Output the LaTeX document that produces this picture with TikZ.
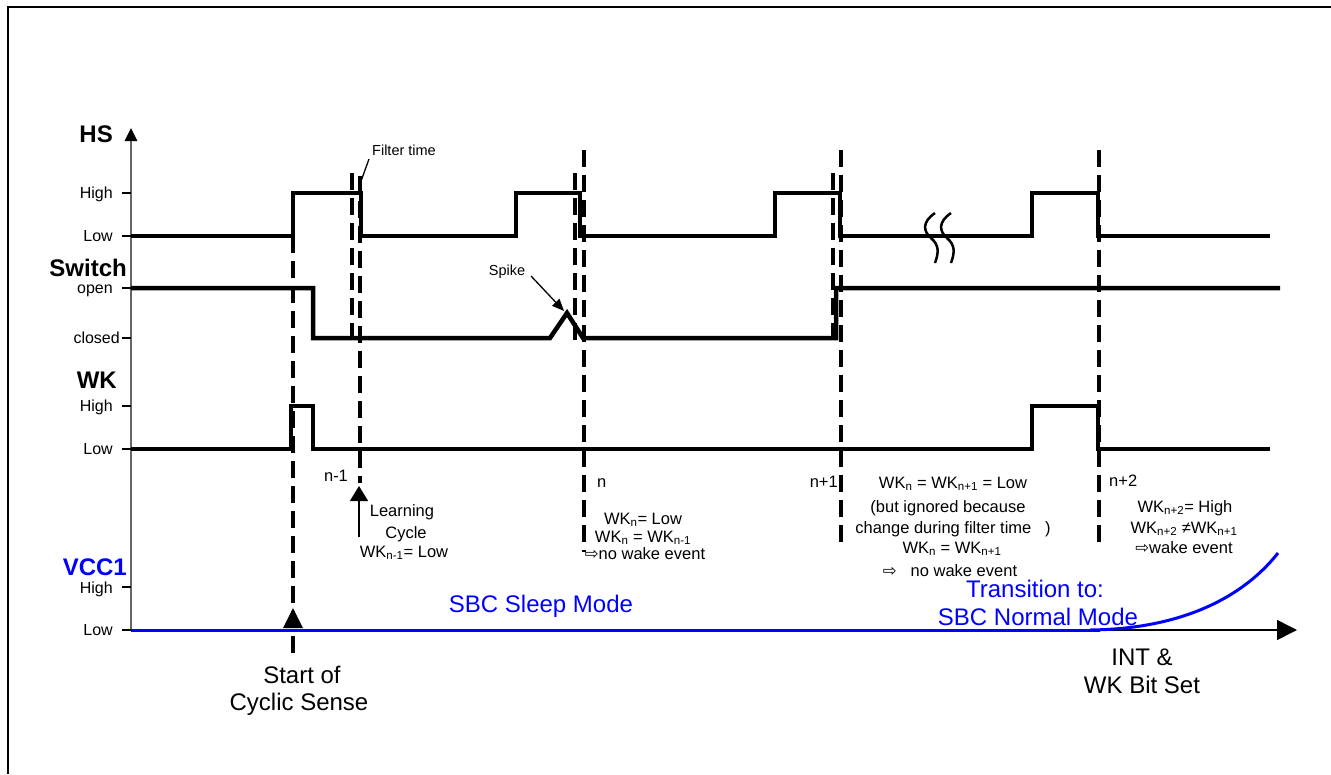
\documentclass[tikz,border=0pt]{standalone}
\usepackage{fontspec}
\setmainfont{Liberation Sans}
\newfontfamily\dejavu{DejaVu Sans}
\usetikzlibrary{arrows.meta}
\definecolor{vblue}{RGB}{0,0,255}
\begin{document}
\begin{tikzpicture}[x=1pt,y=-1pt,
  sig/.style={line width=4.5pt, line join=miter},
  vdash/.style={line width=3.5pt, dash pattern=on 17pt off 8pt},
  tk/.style={line width=2.5pt},
  lbl/.style={font=\fontsize{16}{18}\selectfont, inner sep=0pt},
  ttl/.style={font=\bfseries\fontsize{24}{26}\selectfont, inner sep=0pt},
  big/.style={font=\fontsize{24}{28}\selectfont, inner sep=0pt},
  note/.style={font=\fontsize{16.5}{19}\selectfont, inner sep=0pt},
  small/.style={font=\fontsize{14.5}{17}\selectfont, inner sep=0pt},
  thin/.style={line width=1.3pt},
]
\useasboundingbox (0,0) rectangle (1331,774);
% frame
\draw[line width=1.2pt] (8,774) -- (8,7) -- (1331,7);

% vertical axis
\coordinate (axbot) at (131,630);
\coordinate (axtop) at (131,141);
\draw[gray!80!black, line width=1.2pt] (axbot) -- (axtop);
\fill (131,128) -- (124.5,141) -- (137.5,141) -- cycle;

% ticks
\foreach \yy in {193,236,288,338,406,449,587,630}
  \draw[tk] (122,\yy) -- (131,\yy);

% axis titles
\node[ttl, anchor=base east] (hs) at (113,142) {HS};
\node[ttl, anchor=base east] (sw) at (127,276) {Switch};
\node[ttl, anchor=base east] (wk) at (117,388) {WK};
\node[ttl, anchor=base east, text=vblue] (vcc) at (127,575) {VCC1};

% tick labels
\node[lbl, anchor=base east] (hshi) at (113,198.5) {High};
\node[lbl, anchor=base east] (hslo) at (113,241) {Low};
\node[lbl, anchor=base east] (swop) at (113,293) {open};
\node[lbl, anchor=base east] (swcl) at (120,343) {closed};
\node[lbl, anchor=base east] (wkhi) at (113,411) {High};
\node[lbl, anchor=base east] (wklo) at (113,454) {Low};
\node[lbl, anchor=base east] (vhi) at (113,593) {High};
\node[lbl, anchor=base east] (vlo) at (113,635) {Low};

% horizontal time axis
\coordinate (tax0) at (131,630);
\coordinate (tax1) at (1297,630);
\draw[line width=1.5pt, -{Triangle[length=20pt,width=20pt]}] (tax0) -- (tax1);
\draw[vblue, line width=3pt] (131,630) -- (1100,630);
\draw[vblue, line width=3pt] (1090,630) .. controls (1185,629) and (1245,595) .. (1278,553);

% HS signal
\draw[sig] (131,236) -- (293,236) -- (293,193) -- (361,193) -- (361,236) -- (516,236) -- (516,193) -- (580,193) -- (580,236)
  -- (775,236) -- (775,193) -- (840,193) -- (840,236) -- (1032,236) -- (1032,193) -- (1098,193) -- (1098,236) -- (1270,236);
% Switch signal
\draw[sig] (131,288) -- (313,288) -- (313,338) -- (550,338) -- (567,313) -- (583,338) -- (836,338) -- (836,288) -- (1280,288);
% WK signal
\draw[sig] (131,449) -- (291,449) -- (291,406) -- (313,406) -- (313,449) -- (1032,449) -- (1032,406) -- (1098,406) -- (1098,449) -- (1270,449);

% break marks
\foreach \dx in {0,16}{
  \draw[line width=2.5pt] (935+\dx,213) .. controls (922+\dx,222) and (923+\dx,231) .. (931+\dx,238)
     .. controls (939+\dx,245) and (939+\dx,252) .. (935+\dx,263);
}

% dashed lines
\draw[vdash] (293,236) -- (293,660);
\fill (293,608) -- (283,628) -- (303,628) -- cycle;
\draw[vdash] (352,173) -- (352,340);
\draw[vdash] (360,176) -- (360,483);
\draw[vdash] (575,173) -- (575,340);
\draw[vdash] (584,150) -- (584,552);
\draw[vdash] (833,173) -- (833,340);
\draw[vdash] (841,150) -- (841,548);
\draw[vdash] (1099,150) -- (1099,548);

% filter time
\node[small, anchor=base] (filt) at (404,155) {Filter time};
\coordinate (filtp) at (360,184);
\draw[thin] (369,159) -- (filtp);

% spike
\node[small, anchor=base] (spk) at (507,275) {Spike};
\coordinate (spkp) at (564,311);
\draw[thin, -{Triangle[length=12pt,width=10pt]}] (531,276) -- (spkp);

% learning cycle arrow
\coordinate (lc0) at (359,537);
\coordinate (lc1) at (359,486);
\draw[line width=1.5pt, -{Triangle[length=15pt,width=18pt]}] (lc0) -- (lc1);

% n-1
\node[note, anchor=base] (nm1) at (336,481) {n-1};
\node[note, anchor=base] (lc1t) at (402,516) {Learning};
\node[note, anchor=base] (lc2t) at (406,538) {Cycle};
\node[note, anchor=base] (lc3t) at (404,557) {WK\textsubscript{n-1}= Low};

% n
\node[note, anchor=base west] (nn) at (597,487) {n};
\node[note, anchor=base] (n1t) at (643,524) {WK\textsubscript{n}= Low};
\node[note, anchor=base] (n2t) at (643,542) {WK\textsubscript{n} = WK\textsubscript{n-1}};
\node[note, anchor=base] (n3t) at (645,559) {{\dejavu ⇨}no wake event};

% n+1
\node[note, anchor=base east] (np1) at (838,487) {n+1};
\node[note, anchor=base] (p1t) at (953,488) {WK\textsubscript{n} = WK\textsubscript{n+1} = Low};
\node[note, anchor=base] (p2t) at (948,512) {(but ignored because};
\node[note, anchor=base] (p3t) at (953,533) {change during filter time\ \ \ )};
\node[note, anchor=base] (p4t) at (952,553) {WK\textsubscript{n} = WK\textsubscript{n+1}};
\node[note, anchor=base] (p5t) at (950,576) {{\dejavu ⇨}\hspace{14pt}no wake event};

% n+2
\node[note, anchor=base west] (np2) at (1109,486) {n+2};
\node[note, anchor=base] (q1t) at (1185,512) {WK\textsubscript{n+2}= High};
\node[note, anchor=base] (q2t) at (1184,533) {WK\textsubscript{n+2} ≠WK\textsubscript{n+1}};
\node[note, anchor=base] (q3t) at (1184,553) {{\dejavu ⇨}wake event};

% big labels
\node[big, anchor=base, text=vblue] (sleep) at (541,612) {SBC Sleep Mode};
\node[big, anchor=base, text=vblue] (tr1) at (1035,597) {Transition to:};
\node[big, anchor=base, text=vblue] (tr2) at (1038,625) {SBC Normal Mode};
\node[big, anchor=base] (int1) at (1142,665) {INT \&};
\node[big, anchor=base] (int2) at (1142,693) {WK Bit Set};
\node[big, anchor=base] (st1) at (302,683) {Start of};
\node[big, anchor=base] (st2) at (299,710) {Cyclic Sense};
\end{tikzpicture}
\end{document}
